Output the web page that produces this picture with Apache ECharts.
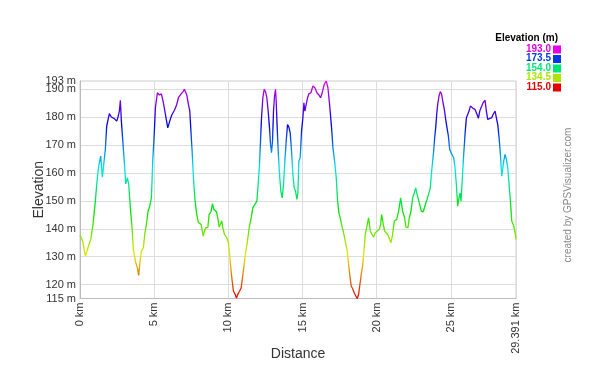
<!DOCTYPE html>
<html>
<head>
<meta charset="utf-8">
<script src="https://cdn.jsdelivr.net/npm/echarts@6/dist/echarts.min.js"></script>
<style>html,body{margin:0;padding:0;background:#fff}#c{width:596px;height:380px}</style>
</head>
<body>
<div id="c"></div>
<script>
const distanceKm = [0.000,0.180,0.360,0.540,0.720,0.877,1.035,1.125,1.260,1.395,1.507,1.619,1.709,1.799,1.979,2.114,2.294,2.474,2.564,2.654,2.721,2.789,2.901,3.014,3.081,3.194,3.284,3.396,3.509,3.599,3.734,3.868,3.958,4.049,4.139,4.273,4.363,4.476,4.588,4.701,4.813,4.903,4.993,5.083,5.218,5.353,5.488,5.623,5.758,5.916,6.050,6.185,6.365,6.523,6.635,6.815,6.950,7.040,7.130,7.198,7.310,7.400,7.490,7.557,7.625,7.692,7.760,7.872,7.985,8.165,8.300,8.390,8.480,8.615,8.704,8.839,8.929,9.019,9.109,9.199,9.289,9.379,9.469,9.559,9.627,9.739,9.874,10.009,10.076,10.144,10.234,10.346,10.459,10.549,10.639,10.751,10.864,10.953,11.066,11.179,11.291,11.404,11.538,11.651,11.763,11.921,12.011,12.101,12.168,12.236,12.326,12.416,12.505,12.595,12.685,12.775,12.843,12.910,12.978,13.045,13.113,13.180,13.225,13.293,13.360,13.450,13.540,13.630,13.720,13.810,13.900,13.990,14.080,14.170,14.260,14.350,14.440,14.530,14.620,14.688,14.755,14.845,14.935,15.025,15.093,15.160,15.250,15.340,15.430,15.565,15.700,15.835,15.970,16.105,16.217,16.329,16.464,16.599,16.712,16.824,16.959,17.049,17.161,17.274,17.364,17.454,17.566,17.679,17.746,17.881,18.016,18.106,18.196,18.286,18.376,18.489,18.601,18.691,18.781,18.871,18.961,19.051,19.141,19.231,19.366,19.455,19.568,19.680,19.793,19.906,20.040,20.175,20.265,20.333,20.445,20.535,20.648,20.738,20.850,20.963,21.075,21.188,21.345,21.480,21.615,21.750,21.885,21.975,22.110,22.200,22.312,22.425,22.537,22.627,22.740,22.874,23.009,23.144,23.279,23.392,23.504,23.617,23.684,23.752,23.842,23.909,23.977,24.044,24.111,24.201,24.291,24.381,24.471,24.561,24.651,24.741,24.831,24.921,25.011,25.101,25.191,25.281,25.371,25.461,25.551,25.618,25.686,25.776,25.866,25.956,26.046,26.136,26.226,26.316,26.406,26.496,26.631,26.766,26.856,26.946,27.081,27.171,27.306,27.395,27.485,27.620,27.755,27.845,27.980,28.070,28.160,28.250,28.340,28.430,28.498,28.565,28.655,28.745,28.835,28.925,29.015,29.105,29.240,29.330,29.391];
const elevationM = [137.7,135.6,130.2,133.2,136.2,141.6,149.9,155.9,162.5,166.1,158.5,158.5,168.5,176.8,181.3,180.1,179.6,178.6,180.1,182.2,186.1,178.6,170.3,161.9,156.1,158.3,155.9,147.5,140.4,132.6,128.4,126.0,123.3,128.4,132.0,133.2,138.0,141.6,146.3,148.1,151.1,164.3,172.7,183.4,188.8,188.0,188.4,185.2,181.0,176.2,178.6,180.8,182.5,184.6,187.0,188.4,189.2,190.0,189.6,188.0,184.6,182.2,173.9,167.9,160.7,154.7,149.9,145.1,142.2,141.6,137.4,139.2,140.4,140.4,145.1,146.3,149.0,147.0,146.3,146.1,143.9,140.6,140.4,142.8,140.4,138.0,137.0,135.0,131.4,127.2,122.4,117.6,116.5,115.2,116.5,117.6,118.8,122.4,127.2,132.0,135.6,140.4,143.9,147.5,148.1,149.9,155.9,163.1,171.5,179.8,187.0,190.0,189.2,187.0,182.2,176.2,170.3,167.3,171.5,182.2,187.6,190.0,185.8,176.2,167.9,159.5,153.5,151.1,155.9,164.3,171.5,177.4,176.5,174.4,167.9,159.5,154.7,153.5,150.5,152.9,164.3,165.5,175.1,179.8,185.2,182.2,184.6,187.0,188.4,188.8,191.2,190.6,188.8,188.0,187.0,188.8,191.8,193.0,190.6,184.6,176.2,169.1,164.3,158.3,149.9,145.7,143.3,140.4,139.2,135.6,132.0,127.2,123.0,119.4,118.6,117.0,115.8,115.0,116.5,120.1,123.7,126.7,132.0,138.0,141.6,143.9,139.2,138.0,137.0,138.6,138.9,139.8,141.6,145.1,141.6,139.2,139.2,138.0,138.6,135.0,138.0,142.8,143.3,146.3,151.1,146.3,143.9,140.6,140.4,143.9,146.3,151.1,152.9,154.7,152.0,149.3,146.3,146.1,148.7,150.5,152.5,154.7,159.5,163.1,167.9,172.7,176.2,181.0,184.6,187.6,189.2,188.2,185.2,182.8,179.2,176.2,173.3,168.5,167.3,166.7,165.5,161.9,155.9,148.1,151.1,152.9,149.9,158.3,166.7,173.9,179.8,181.0,182.2,184.0,183.6,183.2,182.8,181.0,179.6,182.2,184.0,185.2,186.1,182.2,179.2,179.6,179.8,181.0,182.2,179.8,177.4,172.7,166.7,158.9,158.3,164.3,166.7,164.9,161.9,155.9,149.9,142.8,141.0,138.6,136.2];
const yTickLabels = [115, 120, 130, 140, 150, 160, 170, 180, 190];
const yTopLabel = [193];
const xTickLabels = [0, 5, 10, 15, 20, 25, 29.391];
const legendValues = ['193.0', '173.5', '154.0', '134.5', '115.0'];
const legendColors = ['#e600e6', '#0039e6', '#00e673', '#ace600', '#e60000'];
const spectrum = ['#e60000','#e67300','#e6e600','#73e600','#00e600','#00e673','#00e6e6','#0073e6','#0000e6','#7300e6','#e600e6'];

const FONT = '"Liberation Sans", Arial, sans-serif';
const chart = echarts.init(document.getElementById('c'), null, {renderer: 'canvas'});

const legendGraphics = [{
  type: 'text', right: 38, top: 33,
  style: {text: 'Elevation (m)', font: 'bold 10px ' + FONT, fill: '#000'}
}];
legendValues.forEach((v, i) => {
  legendGraphics.push({
    type: 'text', right: 45, top: 44 + i * 9.5,
    style: {text: v, font: 'bold 10px ' + FONT, fill: legendColors[i]}
  });
  legendGraphics.push({
    type: 'rect', shape: {x: 553, y: 45.5 + i * 9.5, width: 8, height: 8},
    style: {fill: legendColors[i]}
  });
});
legendGraphics.push({
  type: 'text', x: 568, y: 195, rotation: Math.PI / 2,
  style: {text: 'created by GPSVisualizer.com', font: '10px ' + FONT, fill: '#888', align: 'center', verticalAlign: 'middle'}
});

const yLabelStyle = {fontFamily: FONT, fontSize: 11, color: '#333', margin: 4, formatter: v => v + ' m'};

chart.setOption({
  backgroundColor: '#fff',
  animation: false,
  grid: {left: 80, right: 80, top: 81, bottom: 81.5, show: true, borderColor: '#ccc', borderWidth: 1},
  xAxis: {
    type: 'value', min: 0, max: 29.391,
    name: 'Distance', nameLocation: 'middle', nameGap: 49, nameMoveOverlap: false,
    nameTextStyle: {fontFamily: FONT, fontSize: 14, color: '#333'},
    axisLine: {show: true, lineStyle: {color: '#bbb'}},
    axisTick: {show: false, customValues: xTickLabels},
    axisLabel: {customValues: xTickLabels, showMinLabel: true, showMaxLabel: true, rotate: 90, fontFamily: FONT, fontSize: 11, color: '#333', margin: 4,
      formatter: v => v + ' km'},
    splitLine: {show: true, lineStyle: {color: '#ddd', width: 1}},
    interval: 5
  },
  yAxis: [{
    type: 'value', min: 115, max: 193,
    name: 'Elevation', nameLocation: 'middle', nameGap: 34, nameRotate: 90, nameMoveOverlap: false,
    nameTextStyle: {fontFamily: FONT, fontSize: 14, color: '#333'},
    axisLine: {show: true, lineStyle: {color: '#bbb'}},
    axisTick: {show: false, customValues: yTickLabels},
    axisLabel: Object.assign({customValues: yTickLabels, showMinLabel: true, showMaxLabel: true}, yLabelStyle),
    splitLine: {show: true, lineStyle: {color: '#ddd', width: 1}},
    interval: 10
  }, {
    type: 'value', min: 115, max: 193, position: 'left', offset: 0,
    axisLine: {show: false}, axisTick: {show: false, customValues: yTopLabel},
    axisLabel: Object.assign({customValues: yTopLabel, showMinLabel: true, showMaxLabel: true}, yLabelStyle),
    splitLine: {show: false}
  }],
  visualMap: {
    show: false, type: 'continuous', dimension: 1, min: 115, max: 193, seriesIndex: 0,
    inRange: {color: spectrum}
  },
  graphic: legendGraphics,
  series: [{
    type: 'line', showSymbol: false, symbol: 'none', yAxisIndex: 0,
    data: distanceKm.map((d, i) => [d, elevationM[i]]),
    lineStyle: {width: 1.3}
  }]
});
</script>
</body>
</html>
